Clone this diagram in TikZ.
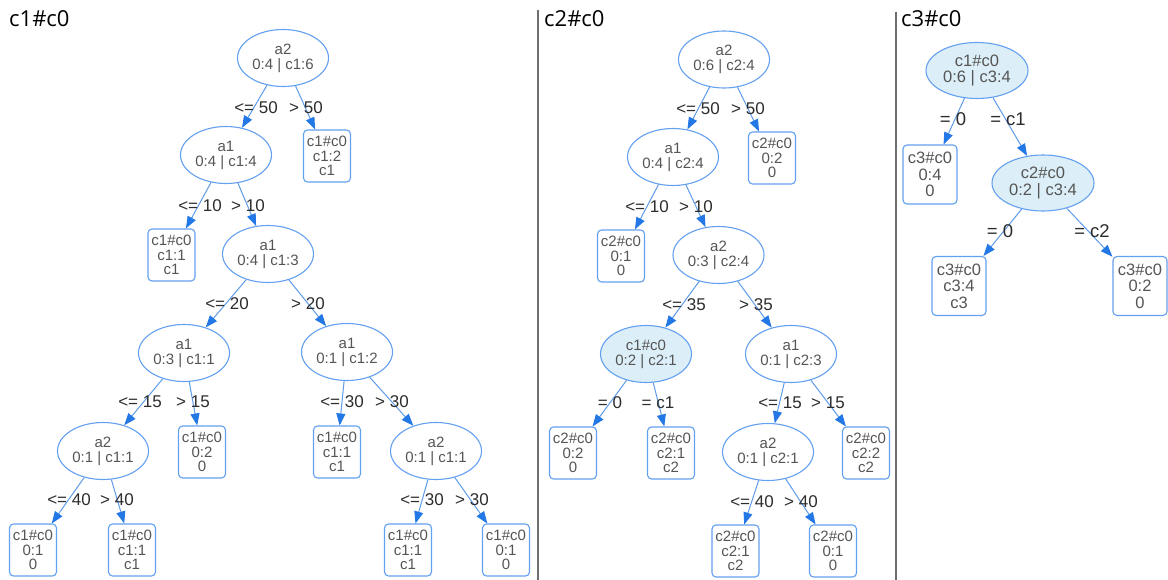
\documentclass[tikz,border=0pt]{standalone}
\usepackage{fontspec}
\setmainfont{Liberation Sans}
\newfontfamily\titlefont{Open Sans}
\usetikzlibrary{shapes.geometric,arrows.meta}
\definecolor{edgeblue}{RGB}{95,155,235}
\definecolor{tipblue}{RGB}{35,120,230}
\definecolor{nodeborder}{RGB}{100,160,240}
\definecolor{hlfill}{RGB}{220,238,247}
\definecolor{nodetext}{RGB}{85,85,85}
\definecolor{lbltext}{RGB}{45,45,45}
\definecolor{sepgray}{RGB}{110,110,110}
\begin{document}
\begin{tikzpicture}[x=1pt,y=-1pt,
  splitnode/.style={ellipse,draw=nodeborder,line width=1.1pt,minimum width=91pt,minimum height=57pt,inner sep=0pt,align=center,text=nodetext,font=\fontsize{15}{15}\selectfont},
  hlnode/.style={splitnode,fill=hlfill},
  leafnode/.style={rectangle,rounded corners=4pt,draw=nodeborder,line width=1.1pt,minimum width=47pt,minimum height=52pt,inner sep=0pt,align=center,text=nodetext,font=\fontsize{15}{14.8}\selectfont},
  edge/.style={draw=edgeblue,line width=1pt,-{Triangle[length=12pt,width=9pt,color=tipblue]}},
  lbl/.style={text=lbltext,inner sep=0pt,font=\fontsize{17}{17}\selectfont},
  ttl/.style={anchor=west,inner sep=0pt,text=black,font=\titlefont\fontsize{22}{22}\selectfont},
  sep/.style={draw=sepgray,line width=1.3pt},
  big/.style={minimum width=102pt,minimum height=56pt,font=\fontsize{16.5}{16.8}\selectfont},
  bigleaf/.style={minimum width=54pt,minimum height=59pt,font=\fontsize{16.5}{16.6}\selectfont},
  biglbl/.style={font=\fontsize{18.5}{18.5}\selectfont}
]
\useasboundingbox (0,0) rectangle (1168,580);
\fill[white] (0,0) rectangle (1168,580);
% separators
\draw[sep] (538,10) -- (538,580);
\draw[sep] (896,12) -- (896,580);
% titles
\node[ttl] (t1) at (9,19) {c1\#c0};
\node[ttl] (t2) at (544,19) {c2\#c0};
\node[ttl] (t3) at (901,19) {c3\#c0};

% ---------- panel 1 ----------
\node[splitnode] (p1r) at (283,58) {a2\\0:4 | c1:6};
\node[leafnode] (p1l1) at (327,156) {c1\#c0\\c1:2\\c1};
\node[splitnode] (p1a) at (226,155) {a1\\0:4 | c1:4};
\node[leafnode] (p1l2) at (171.5,255) {c1\#c0\\c1:1\\c1};
\node[splitnode] (p1b) at (268,254) {a1\\0:4 | c1:3};
\node[splitnode] (p1c) at (184,353) {a1\\0:3 | c1:1};
\node[splitnode] (p1d) at (347,352) {a1\\0:1 | c1:2};
\node[splitnode] (p1e) at (103,451) {a2\\0:1 | c1:1};
\node[leafnode] (p1l3) at (202,452) {c1\#c0\\0:2\\0};
\node[leafnode] (p1l4) at (337,452) {c1\#c0\\c1:1\\c1};
\node[splitnode] (p1f) at (436,451) {a2\\0:1 | c1:1};
\node[leafnode] (p1l5) at (33,550) {c1\#c0\\0:1\\0};
\node[leafnode] (p1l6) at (132,550) {c1\#c0\\c1:1\\c1};
\node[leafnode] (p1l7) at (408,550) {c1\#c0\\c1:1\\c1};
\node[leafnode] (p1l8) at (506,550) {c1\#c0\\0:1\\0};

\draw[edge] (p1r) -- (p1a);
\draw[edge] (p1r) -- (p1l1);
\draw[edge] (p1a) -- (p1l2);
\draw[edge] (p1a) -- (p1b);
\draw[edge] (p1b) -- (p1c);
\draw[edge] (p1b) -- (p1d);
\draw[edge] (p1c) -- (p1e);
\draw[edge] (p1c) -- (p1l3);
\draw[edge] (p1d) -- (p1l4);
\draw[edge] (p1d) -- (p1f);
\draw[edge] (p1e) -- (p1l5);
\draw[edge] (p1e) -- (p1l6);
\draw[edge] (p1f) -- (p1l7);
\draw[edge] (p1f) -- (p1l8);

\node[lbl] (q1) at (256,108) {<= 50};
\node[lbl] (q2) at (306,108) {> 50};
\node[lbl] (q3) at (200,206) {<= 10};
\node[lbl] (q4) at (248,206) {> 10};
\node[lbl] (q5) at (227,304) {<= 20};
\node[lbl] (q6) at (308,304) {> 20};
\node[lbl] (q7) at (140,402) {<= 15};
\node[lbl] (q8) at (193,402) {> 15};
\node[lbl] (q9) at (342,402) {<= 30};
\node[lbl] (q10) at (392,402) {> 30};
\node[lbl] (q11) at (69,500) {<= 40};
\node[lbl] (q12) at (117,500) {> 40};
\node[lbl] (q13) at (422,500) {<= 30};
\node[lbl] (q14) at (472,500) {> 30};

% ---------- panel 2 ----------
\node[splitnode] (p2r) at (724,59.5) {a2\\0:6 | c2:4};
\node[leafnode] (p2l1) at (772,158) {c2\#c0\\0:2\\0};
\node[splitnode] (p2a) at (673,157) {a1\\0:4 | c2:4};
\node[leafnode] (p2l2) at (621,256) {c2\#c0\\0:1\\0};
\node[splitnode] (p2b) at (718.5,255) {a2\\0:3 | c2:4};
\node[hlnode] (p2c) at (646,354) {c1\#c0\\0:2 | c2:1};
\node[splitnode] (p2d) at (791,354) {a1\\0:1 | c2:3};
\node[leafnode] (p2l3) at (573,453) {c2\#c0\\0:2\\0};
\node[leafnode] (p2l4) at (671,453) {c2\#c0\\c2:1\\c2};
\node[splitnode] (p2e) at (768,452) {a2\\0:1 | c2:1};
\node[leafnode] (p2l5) at (866,453) {c2\#c0\\c2:2\\c2};
\node[leafnode] (p2l6) at (735.5,551) {c2\#c0\\c2:1\\c2};
\node[leafnode] (p2l7) at (833,551) {c2\#c0\\0:1\\0};

\draw[edge] (p2r) -- (p2a);
\draw[edge] (p2r) -- (p2l1);
\draw[edge] (p2a) -- (p2l2);
\draw[edge] (p2a) -- (p2b);
\draw[edge] (p2b) -- (p2c);
\draw[edge] (p2b) -- (p2d);
\draw[edge] (p2c) -- (p2l3);
\draw[edge] (p2c) -- (p2l4);
\draw[edge] (p2d) -- (p2e);
\draw[edge] (p2d) -- (p2l5);
\draw[edge] (p2e) -- (p2l6);
\draw[edge] (p2e) -- (p2l7);

\node[lbl] (r1) at (698,109) {<= 50};
\node[lbl] (r2) at (748,109) {> 50};
\node[lbl] (r3) at (647,207) {<= 10};
\node[lbl] (r4) at (696,207) {> 10};
\node[lbl] (r5) at (684,305) {<= 35};
\node[lbl] (r6) at (756,305) {> 35};
\node[lbl] (r7) at (610,403) {= 0};
\node[lbl] (r8) at (658,403) {= c1};
\node[lbl] (r9) at (780,403) {<= 15};
\node[lbl] (r10) at (828,403) {> 15};
\node[lbl] (r11) at (752,502) {<= 40};
\node[lbl] (r12) at (801,502) {> 40};

% ---------- panel 3 ----------
\node[hlnode,big] (p3r) at (977,70.5) {c1\#c0\\0:6 | c3:4};
\node[leafnode,bigleaf] (p3l1) at (930,174.5) {c3\#c0\\0:4\\0};
\node[hlnode,big] (p3a) at (1043,183) {c2\#c0\\0:2 | c3:4};
\node[leafnode,bigleaf] (p3l2) at (959,286) {c3\#c0\\c3:4\\c3};
\node[leafnode,bigleaf] (p3l3) at (1140,286) {c3\#c0\\0:2\\0};

\draw[edge] (p3r) -- (p3l1);
\draw[edge] (p3r) -- (p3a);
\draw[edge] (p3a) -- (p3l2);
\draw[edge] (p3a) -- (p3l3);

\node[lbl,biglbl] (s1) at (953,119) {= 0};
\node[lbl,biglbl] (s2) at (1008,119) {= c1};
\node[lbl,biglbl] (s3) at (1000,231) {= 0};
\node[lbl,biglbl] (s4) at (1092,231) {= c2};
\end{tikzpicture}
\end{document}
